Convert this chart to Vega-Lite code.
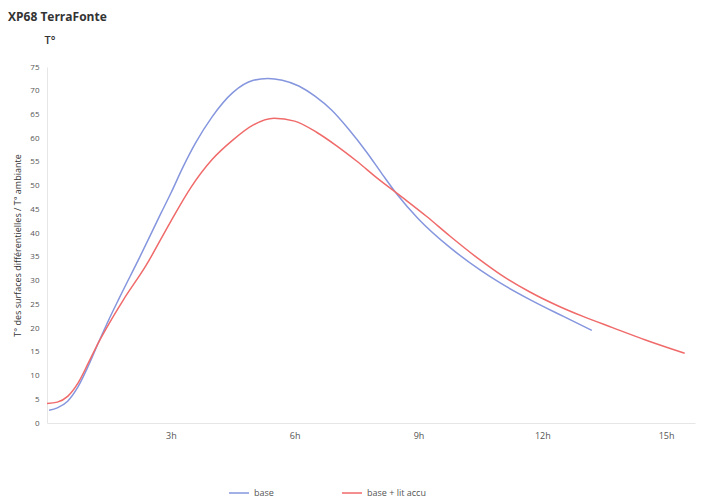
{
  "$schema": "https://vega.github.io/schema/vega-lite/v6.json",
  "width": 648,
  "height": 356,
  "autosize": "none",
  "padding": {"left": 47, "top": 67, "right": 10, "bottom": 77},
  "background": "white",
  "title": {
    "text": "XP68 TerraFonte",
    "anchor": "start",
    "frame": "group",
    "dx": -39,
    "offset": 1,
    "baseline": "alphabetic",
    "font": "Open Sans",
    "fontSize": 12,
    "fontWeight": "bold",
    "color": "#333333"
  },
  "config": {
    "view": {"stroke": null},
    "font": "Open Sans"
  },
  "data": {
    "values": [
      {"t": 0.05, "T": 2.7, "s": "base"},
      {"t": 0.25, "T": 3.2, "s": "base"},
      {"t": 0.5, "T": 4.6, "s": "base"},
      {"t": 0.75, "T": 7.6, "s": "base"},
      {"t": 1.0, "T": 12.0, "s": "base"},
      {"t": 1.25, "T": 17.0, "s": "base"},
      {"t": 1.5, "T": 21.8, "s": "base"},
      {"t": 1.75, "T": 26.3, "s": "base"},
      {"t": 2.25, "T": 35.0, "s": "base"},
      {"t": 2.75, "T": 44.0, "s": "base"},
      {"t": 3.0, "T": 48.4, "s": "base"},
      {"t": 3.3, "T": 54.0, "s": "base"},
      {"t": 3.6, "T": 59.0, "s": "base"},
      {"t": 4.0, "T": 64.5, "s": "base"},
      {"t": 4.5, "T": 69.6, "s": "base"},
      {"t": 5.0, "T": 72.2, "s": "base"},
      {"t": 5.35, "T": 72.6, "s": "base"},
      {"t": 5.7, "T": 72.2, "s": "base"},
      {"t": 6.1, "T": 71.0, "s": "base"},
      {"t": 6.5, "T": 68.8, "s": "base"},
      {"t": 6.9, "T": 65.9, "s": "base"},
      {"t": 7.3, "T": 62.0, "s": "base"},
      {"t": 7.75, "T": 57.0, "s": "base"},
      {"t": 8.1, "T": 52.7, "s": "base"},
      {"t": 8.47, "T": 48.3, "s": "base"},
      {"t": 9.0, "T": 43.0, "s": "base"},
      {"t": 9.76, "T": 37.0, "s": "base"},
      {"t": 10.5, "T": 32.2, "s": "base"},
      {"t": 11.0, "T": 29.4, "s": "base"},
      {"t": 11.7, "T": 26.0, "s": "base"},
      {"t": 12.5, "T": 22.5, "s": "base"},
      {"t": 13.2, "T": 19.5, "s": "base"},
      {"t": 0.0, "T": 4.1, "s": "base + lit accu"},
      {"t": 0.25, "T": 4.4, "s": "base + lit accu"},
      {"t": 0.5, "T": 5.6, "s": "base + lit accu"},
      {"t": 0.75, "T": 8.4, "s": "base + lit accu"},
      {"t": 1.0, "T": 12.6, "s": "base + lit accu"},
      {"t": 1.25, "T": 17.0, "s": "base + lit accu"},
      {"t": 1.5, "T": 20.9, "s": "base + lit accu"},
      {"t": 1.84, "T": 25.8, "s": "base + lit accu"},
      {"t": 2.4, "T": 33.2, "s": "base + lit accu"},
      {"t": 3.0, "T": 42.5, "s": "base + lit accu"},
      {"t": 3.5, "T": 49.8, "s": "base + lit accu"},
      {"t": 4.0, "T": 55.5, "s": "base + lit accu"},
      {"t": 4.5, "T": 59.6, "s": "base + lit accu"},
      {"t": 5.0, "T": 62.8, "s": "base + lit accu"},
      {"t": 5.5, "T": 64.2, "s": "base + lit accu"},
      {"t": 6.0, "T": 63.6, "s": "base + lit accu"},
      {"t": 6.54, "T": 61.2, "s": "base + lit accu"},
      {"t": 7.0, "T": 58.5, "s": "base + lit accu"},
      {"t": 7.5, "T": 55.2, "s": "base + lit accu"},
      {"t": 8.0, "T": 51.6, "s": "base + lit accu"},
      {"t": 8.6, "T": 47.6, "s": "base + lit accu"},
      {"t": 9.2, "T": 43.5, "s": "base + lit accu"},
      {"t": 9.76, "T": 39.4, "s": "base + lit accu"},
      {"t": 10.5, "T": 34.3, "s": "base + lit accu"},
      {"t": 11.0, "T": 31.2, "s": "base + lit accu"},
      {"t": 11.7, "T": 27.6, "s": "base + lit accu"},
      {"t": 12.4, "T": 24.6, "s": "base + lit accu"},
      {"t": 13.0, "T": 22.4, "s": "base + lit accu"},
      {"t": 13.7, "T": 20.1, "s": "base + lit accu"},
      {"t": 14.5, "T": 17.5, "s": "base + lit accu"},
      {"t": 15.45, "T": 14.7, "s": "base + lit accu"}
    ]
  },
  "layer": [
    {
      "mark": {"type": "line", "interpolate": "monotone", "strokeWidth": 1.5},
      "encoding": {
        "x": {
          "field": "t",
          "type": "quantitative",
          "scale": {"domain": [0, 15.7], "nice": false, "zero": true},
          "axis": {
            "orient": "bottom",
            "title": null,
            "values": [3, 6, 9, 12, 15],
            "labelExpr": "datum.value + 'h'",
            "grid": false,
            "ticks": false,
            "domainColor": "#e6e6e6",
            "labelColor": "#555555",
            "labelFontSize": 9,
            "labelPadding": 8,
            "labelFont": "Open Sans"
          }
        },
        "y": {
          "field": "T",
          "type": "quantitative",
          "scale": {"domain": [0, 75], "nice": false},
          "axis": {
            "title": "T° des surfaces différentielles / T° ambiante",
            "titleFontSize": 9,
            "titleFontWeight": "normal",
            "titleColor": "#333333",
            "titleX": -25,
            "titleY": 178,
            "titleAlign": "center",
            "values": [0, 5, 10, 15, 20, 25, 30, 35, 40, 45, 50, 55, 60, 65, 70, 75],
            "labelOverlap": false,
            "labelBound": false,
            "labelFlush": false,
            "grid": false,
            "ticks": false,
            "domainColor": "#e6e6e6",
            "labelColor": "#555555",
            "labelFontSize": 8,
            "labelPadding": 8,
            "labelFont": "Open Sans"
          }
        },
        "color": {
          "field": "s",
          "type": "nominal",
          "scale": {"domain": ["base", "base + lit accu"], "range": ["#8596de", "#f06a6a"]},
          "legend": {
            "orient": "none",
            "legendX": 181,
            "legendY": 415,
            "direction": "horizontal",
            "title": null,
            "symbolType": "stroke",
            "symbolSize": 400,
            "symbolStrokeWidth": 1.5,
            "labelFontSize": 9,
            "labelColor": "#555555",
            "columnPadding": 65
          }
        }
      }
    },
    {
      "mark": {"type": "line", "opacity": 0},
      "encoding": {
        "x": {
          "field": "t",
          "type": "quantitative",
          "axis": {
            "orient": "top",
            "title": "T°",
            "titleFontSize": 11,
            "titleFontWeight": 600,
            "titleColor": "#333333",
            "titleAnchor": "start",
            "titleAlign": "left",
            "titleBaseline": "alphabetic",
            "titleX": -3,
            "titleY": -24,
            "labels": false,
            "ticks": false,
            "domain": false,
            "grid": false
          }
        }
      }
    }
  ]
}
